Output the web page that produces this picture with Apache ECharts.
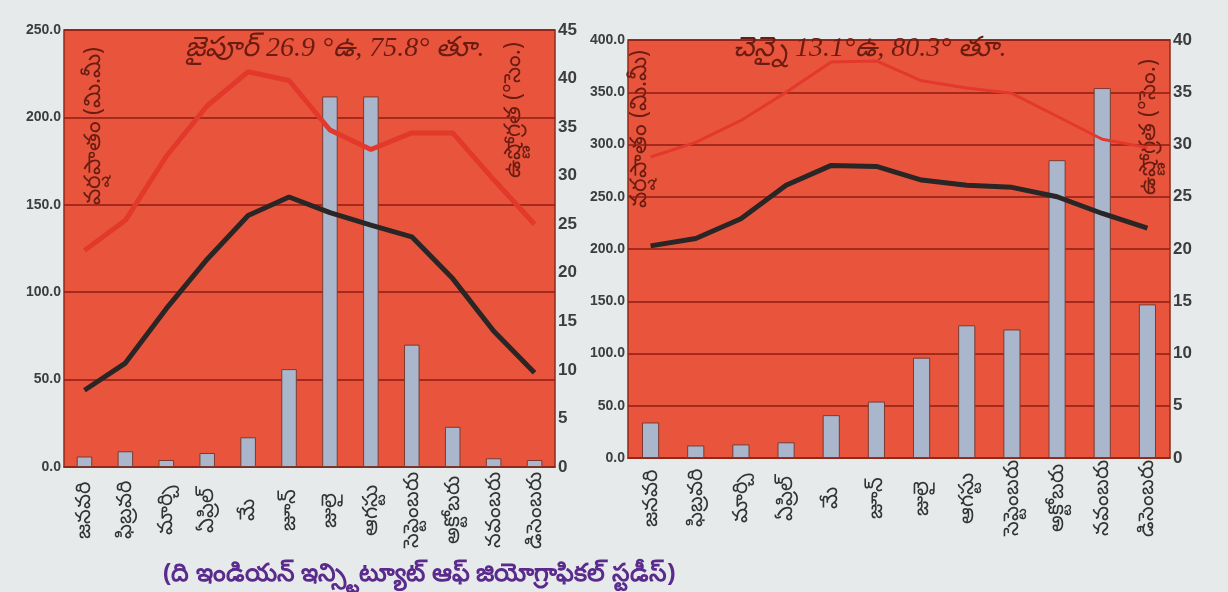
<!DOCTYPE html>
<html>
<head>
<meta charset="utf-8">
<script src="https://cdn.jsdelivr.net/npm/echarts@6/dist/echarts.min.js"></script>
<style>
html,body{margin:0;padding:0;background:#e6eaea;}
#c{width:1228px;height:592px;}
</style>
</head>
<body>
<div id="c"></div>
<script>
const months = ['జనవరి','ఫిబ్రవరి','మార్చి','ఏప్రిల్','మే','జూన్','జులై','ఆగస్టు','సెప్టెంబరు','అక్టోబరు','నవంబరు','డిసెంబరు'];

const jaipurTitle = 'జైపూర్ 26.9 °ఉ, 75.8° తూ.';
const jaipurRain = [6, 9, 4, 8, 17, 56, 212, 212, 70, 23, 5, 4];
const jaipurMax = [22.3, 25.4, 32, 37.2, 40.7, 39.8, 34.7, 32.7, 34.4, 34.4, 29.6, 25];
const jaipurMin = [7.9, 10.7, 16.3, 21.4, 25.9, 27.8, 26.2, 24.9, 23.7, 19.4, 14, 9.7];

const chennaiTitle = 'చెన్నై 13.1°ఉ, 80.3° తూ.';
const chennaiRain = [34, 12, 13, 15, 41, 54, 96, 127, 123, 285, 354, 147];
const chennaiMax = [28.8, 30.2, 32.3, 35, 37.9, 38, 36.1, 35.4, 34.9, 32.7, 30.5, 29.7];
const chennaiMin = [20.3, 21, 22.9, 26.1, 28, 27.9, 26.6, 26.1, 25.9, 25, 23.4, 22];

const rainName = 'వర్షపాతం (మి.మీ)';
const tempName = 'ఉష్ణోగ్రత (°సెం.)';
const caption = '(ది ఇండియన్ ఇన్స్టిట్యూట్ ఆఫ్ జియోగ్రాఫికల్ స్టడీస్)';

const FONT = '"Noto Sans", "DejaVu Sans", sans-serif';
const plotBg = '#e9553c';
const gridLine = '#8e1c14';
const barColor = '#aab6cc';
const redLine = '#e2392c';
const blackLine = '#2a2626';
const textDark = '#6a1c12';
const tickColor = '#3d3d3d';

const chart = echarts.init(document.getElementById('c'));

function xAxis(gi, margin) {
  return {
    type: 'category', gridIndex: gi, data: months,
    axisLine: {lineStyle: {color: '#8e2a1a', width: 1.5}},
    axisTick: {show: false},
    axisLabel: {rotate: 90, align: 'center', verticalAlign: 'middle', color: '#333', fontSize: 21, fontFamily: FONT, margin: margin}
  };
}
function yLeft(gi, max) {
  return {
    type: 'value', gridIndex: gi, min: 0, max: max, interval: 50, position: 'left',
    axisLine: {show: false}, axisTick: {show: false},
    splitLine: {show: true, lineStyle: {color: gridLine, width: 1.5}},
    axisLabel: {color: tickColor, fontSize: 14, fontWeight: 'bold', fontFamily: '"Liberation Sans", Arial, sans-serif',
      formatter: v => v.toFixed(1), margin: 3}
  };
}
function yRight(gi, max) {
  return {
    type: 'value', gridIndex: gi, min: 0, max: max, interval: 5, position: 'right',
    axisLine: {show: false}, axisTick: {show: false}, splitLine: {show: false},
    axisLabel: {color: tickColor, fontSize: 17, fontWeight: 'bold', fontFamily: '"Liberation Sans", Arial, sans-serif', margin: 3}
  };
}
function vText(x, y, text) {
  return {type: 'text', x: x, y: y, rotation: Math.PI / 2,
    style: {text: text, fill: textDark, font: '23px ' + FONT, textVerticalAlign: 'top'}};
}

chart.setOption({
  backgroundColor: '#e6eaea',
  animation: false,
  grid: [
    {left: 64, right: 673, top: 30, bottom: 125, show: true, backgroundColor: plotBg, borderColor: '#8e2a1a', borderWidth: 1.5},
    {left: 628, right: 58, top: 40, bottom: 134, show: true, backgroundColor: plotBg, borderColor: '#8e2a1a', borderWidth: 1.5}
  ],
  xAxis: [xAxis(0, 43), xAxis(1, 40)],
  yAxis: [yLeft(0, 250), yRight(0, 45), yLeft(1, 400), yRight(1, 40)],
  title: [
    {text: jaipurTitle, left: 180, top: 30, textStyle: {color: textDark, fontSize: 28, fontStyle: 'italic', fontWeight: 'normal', fontFamily: '"Liberation Serif", serif'}},
    {text: chennaiTitle, left: 728, top: 30, textStyle: {color: textDark, fontSize: 28, fontStyle: 'italic', fontWeight: 'normal', fontFamily: '"Liberation Serif", serif'}},
    {text: caption, left: 158, top: 556, textStyle: {color: '#5a2a8c', fontSize: 25, fontWeight: 'bold', fontFamily: FONT}}
  ],
  graphic: [
    vText(82, 205, rainName),
    vText(502, 178, tempName),
    vText(628, 208, rainName),
    vText(1137, 195, tempName)
  ],
  series: [
    {type: 'bar', xAxisIndex: 0, yAxisIndex: 0, data: jaipurRain, barWidth: '38%',
      itemStyle: {color: barColor, borderColor: '#7a3a30', borderWidth: 1}},
    {type: 'line', xAxisIndex: 0, yAxisIndex: 1, data: jaipurMax, symbol: 'none',
      lineStyle: {color: redLine, width: 5}},
    {type: 'line', xAxisIndex: 0, yAxisIndex: 1, data: jaipurMin, symbol: 'none',
      lineStyle: {color: blackLine, width: 5}},
    {type: 'bar', xAxisIndex: 1, yAxisIndex: 2, data: chennaiRain, barWidth: '38%',
      itemStyle: {color: barColor, borderColor: '#7a3a30', borderWidth: 1}},
    {type: 'line', xAxisIndex: 1, yAxisIndex: 3, data: chennaiMax, symbol: 'none',
      lineStyle: {color: redLine, width: 3}},
    {type: 'line', xAxisIndex: 1, yAxisIndex: 3, data: chennaiMin, symbol: 'none',
      lineStyle: {color: blackLine, width: 5}}
  ]
});
</script>
</body>
</html>
